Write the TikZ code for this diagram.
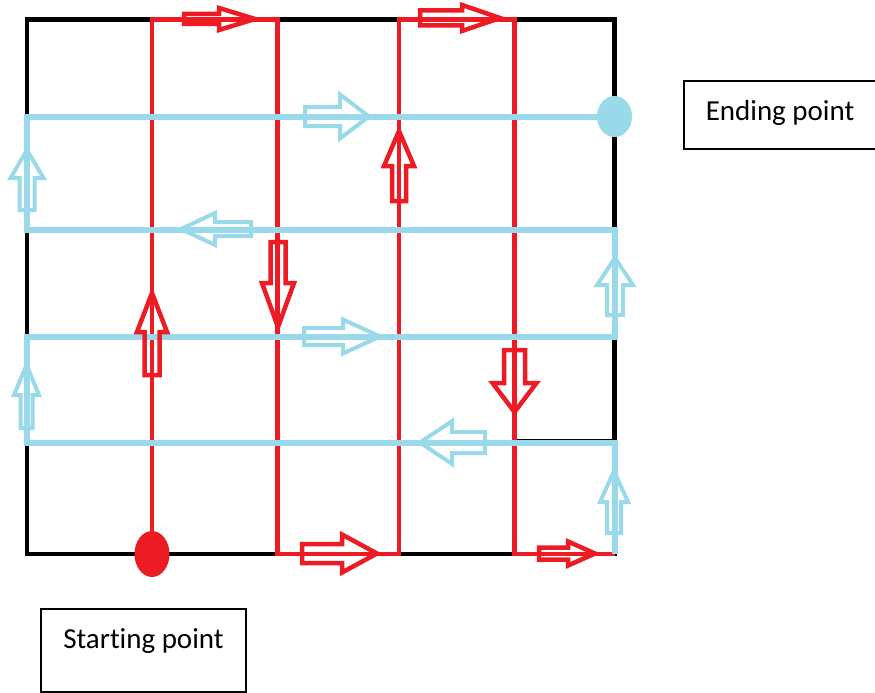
\documentclass[tikz,border=0pt]{standalone}
\usepackage{fontspec}
\setmainfont{Carlito}[Ligatures=NoCommon]
\usetikzlibrary{shapes.geometric}
\definecolor{routered}{HTML}{ED1C24}
\definecolor{routeblue}{HTML}{99D9EA}
\tikzset{
  frame/.style={draw=black, line width=4.5pt},
  gridline/.style={draw=black, line width=2pt},
  redroute/.style={draw=routered, line width=4.5pt, line join=miter},
  blueroute/.style={draw=routeblue, line width=6pt, line join=miter},
  redarrow/.style={color=routered, line width=4.5pt, line join=miter},
  bluearrow/.style={color=routeblue, line width=4pt, line join=miter},
  labelbox/.style={draw=black, line width=1.5pt, inner ysep=0pt,
    font=\fontsize{29}{34}\selectfont},
  % hollow block arrow, tip at the origin, pointing along +x
  % #1 total length, #2 shaft half-width, #3 head half-width, #4 head length
  pics/blockarrow/.style n args={4}{code={
    \draw (0,0) -- (-#4,#3) -- (-#4,#2) -- (-#1,#2) -- (-#1,-#2)
      -- (-#4,-#2) -- (-#4,-#3) -- cycle;
  }}
}
\begin{document}
\begin{tikzpicture}[x=1pt,y=-1pt]
\useasboundingbox (0,0) rectangle (875,693);
\clip (0,0) rectangle (875,693);

% grid corners
\coordinate (nw) at (27,19.5);
\coordinate (se) at (614.5,554);

% outer frame
\draw[frame] (nw) rectangle (se);
\coordinate (g1) at (514.5,439.5);
\coordinate (g2) at (614.5,439.5);
\draw[gridline] (g1) -- (g2);

% red route (columns)
\coordinate (r0) at (152,554);
\coordinate (r1) at (152,19.5);
\coordinate (r2) at (277.5,19.5);
\coordinate (r3) at (277.5,554);
\coordinate (r4) at (399,554);
\coordinate (r5) at (399,19.5);
\coordinate (r6) at (514.5,19.5);
\coordinate (r7) at (514.5,554);
\coordinate (r8) at (614.5,554);
\draw[redroute] (r0) -- (r1) -- (r2) -- (r3) -- (r4) -- (r5) -- (r6) -- (r7) -- (r8);

% blue route (rows)
\coordinate (b0) at (614.5,554);
\coordinate (b1) at (614.5,443);
\coordinate (b2) at (27,443);
\coordinate (b3) at (27,336.5);
\coordinate (b4) at (614.5,336.5);
\coordinate (b5) at (614.5,229.5);
\coordinate (b6) at (27,229.5);
\coordinate (b7) at (27,116.5);
\coordinate (b8) at (614.5,116.5);
\draw[blueroute] (b0) -- (b1) -- (b2) -- (b3) -- (b4) -- (b5) -- (b6) -- (b7) -- (b8);

% red direction arrows
\pic[redarrow] at (255,19) {blockarrow={71}{5}{11}{36}};
\pic[redarrow] at (500,18) {blockarrow={80}{7.5}{13}{38}};
\pic[redarrow, rotate=90] at (152,293) {blockarrow={82}{7.5}{15}{39}};
\pic[redarrow, rotate=-90] at (278,327) {blockarrow={85}{7.5}{16}{44}};
\pic[redarrow, rotate=90] at (399,131) {blockarrow={70}{7}{15}{35}};
\pic[redarrow, rotate=-90] at (514.5,412) {blockarrow={62}{10.5}{22}{29}};
\pic[redarrow] at (377,553.5) {blockarrow={75}{9.5}{19}{35}};
\pic[redarrow] at (595,553.5) {blockarrow={56}{6}{12}{27}};

% blue direction arrows
\pic[bluearrow, rotate=90] at (27,150) {blockarrow={60}{7.5}{16.5}{28}};
\pic[bluearrow, rotate=180] at (181,229) {blockarrow={70}{7}{16}{34}};
\pic[bluearrow] at (369,116.5) {blockarrow={64}{9.5}{22}{29}};
\pic[bluearrow] at (380,336.5) {blockarrow={76}{8.5}{17}{37}};
\pic[bluearrow, rotate=90] at (615,258) {blockarrow={57}{8}{18}{27}};
\pic[bluearrow, rotate=90] at (26.5,365) {blockarrow={63}{6}{12.5}{30}};
\pic[bluearrow, rotate=180] at (420,442.5) {blockarrow={65}{10.5}{21.5}{32}};
\pic[bluearrow, rotate=90] at (614,471) {blockarrow={62}{7}{14}{31}};

% start and end markers
\node[ellipse, fill=routered, inner sep=0pt, minimum width=35pt, minimum height=46pt] (start) at (r0) {};
\node[ellipse, fill=routeblue, inner sep=0pt, minimum width=35pt, minimum height=41pt] (finish) at (b8) {};

% labels
\node[labelbox, inner xsep=0pt, minimum width=205pt, text height=39pt, text depth=44pt, anchor=base]
  (startlabel) at (143.5,648) {Starting point};
\node[labelbox, inner xsep=22pt, text height=39pt, text depth=29pt, anchor=base west]
  (endlabel) at (683,120) {Ending point\hspace{40pt}};
\end{tikzpicture}
\end{document}
